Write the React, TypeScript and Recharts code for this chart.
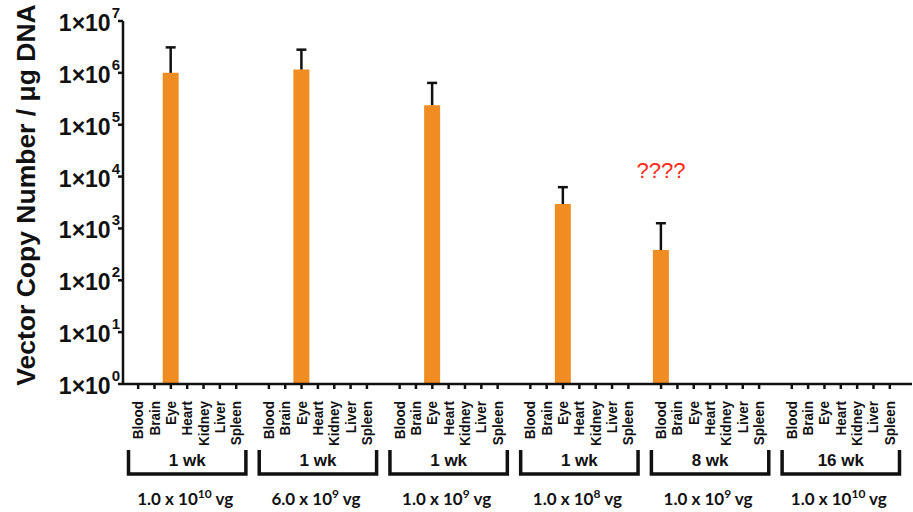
import { BarChart, Bar, XAxis, YAxis, ErrorBar, ReferenceDot } from 'recharts';

const tissues = ['Blood', 'Brain', 'Eye', 'Heart', 'Kidney', 'Liver', 'Spleen'];
const timepoints = ['1 wk', '1 wk', '1 wk', '1 wk', '8 wk', '16 wk'];
const doseMantissas = ['1.0', '6.0', '1.0', '1.0', '1.0', '1.0'];
const doseExponents = ['10', '9', '9', '8', '9', '10'];

// mean vector copy number per tissue, one row per group (null = not detected)
const meanValues: (number | null)[][] = [
  [null, null, 1.0e6, null, null, null, null],
  [null, null, 1.16e6, null, null, null, null],
  [null, null, 2.38e5, null, null, null, null],
  [null, null, 2.95e3, null, null, null, null],
  [382, null, null, null, null, null, null],
  [null, null, null, null, null, null, null],
];
// top of the error whisker
const upperValues: (number | null)[][] = [
  [null, null, 3.1e6, null, null, null, null],
  [null, null, 2.8e6, null, null, null, null],
  [null, null, 6.4e5, null, null, null, null],
  [null, null, 6.25e3, null, null, null, null],
  [1.26e3, null, null, null, null, null, null],
  [null, null, null, null, null, null, null],
];

const yTicks = [1, 10, 100, 1e3, 1e4, 1e5, 1e6, 1e7];
const annotationText = '????';
const annotationGroup = 4;
const annotationTissue = 'Blood';
const annotationValue = 1.3e4;

const FONT = '"Liberation Sans", Arial, sans-serif';
const ORANGE = '#F08D22';
const INK = '#111';

interface Row {
  key: string;
  tissue: string;
  tissueIndex: number;
  group: number;
  mean?: number | null;
  err?: [number, number];
}

// build the category list, with one empty slot between groups
const rows: Row[] = [];
meanValues.forEach((vals, g) => {
  if (g > 0) rows.push({ key: `gap${g}`, tissue: '', tissueIndex: -1, group: g });
  tissues.forEach((t, i) => {
    const mean = vals[i];
    const upper = upperValues[g][i];
    const row: Row = { key: `g${g}-${t}`, tissue: t, tissueIndex: i, group: g, mean };
    if (mean != null && upper != null) row.err = [0, upper - mean]; // upper whisker only
    rows.push(row);
  });
});

const rowByKey: Record<string, Row> = {};
rows.forEach((r) => { rowByKey[r.key] = r; });

function CategoryTick(props: any) {
  const { x, y, payload } = props;
  const row = rowByKey[payload.value];
  if (!row || !row.tissue) return null;
  const slot = payload.offset ? payload.offset * 2 : 16.34;
  const half = slot * 3.5 + 1.5;
  return (
    <g>
      <line x1={x} x2={x} y1={y} y2={y + 5} stroke={INK} strokeWidth={2.5} />
      <text
        transform={`translate(${x + 5},${y + 17}) rotate(-90) scale(1,1.1)`}
        textAnchor="end"
        fontSize={13.5}
        fontWeight="bold"
        fontFamily={FONT}
        fill={INK}
      >
        {row.tissue}
      </text>
      {row.tissueIndex === 3 && (
        <g>
          <path
            d={`M${x - half},${y + 66} V${y + 90} H${x + half} V${y + 66}`}
            fill="none"
            stroke={INK}
            strokeWidth={3.5}
          />
          <text x={x} y={y + 82} textAnchor="middle" fontSize={17} fontWeight="bold" fontFamily={FONT} fill={INK}>
            {timepoints[row.group]}
          </text>
          <text x={x - 2} y={y + 121} textAnchor="middle" fontSize={17} fontWeight="bold" fontFamily="Lato, sans-serif" fill={INK}>
            {`${doseMantissas[row.group]} x 10`}
            <tspan fontSize={12} dy={-7}>{doseExponents[row.group]}</tspan>
            <tspan dy={7}>{' vg'}</tspan>
          </text>
        </g>
      )}
    </g>
  );
}

function PowerTick(props: any) {
  const { x, y, payload } = props;
  const exp = Math.round(Math.log10(payload.value));
  return (
    <text x={x + 2} y={y + 10} textAnchor="end" fontSize={23} fontWeight="bold" fontFamily={FONT} fill={INK}>
      {'1×10'}
      <tspan fontSize={15} dx={1} dy={-13}>{String(exp)}</tspan>
    </text>
  );
}

export default function App() {
  return (
    <div style={{ position: 'absolute', left: 0, top: 0, width: 913, height: 512, background: '#fff' }}>
      <style>{'.recharts-errorBar line:nth-of-type(3){display:none}'}</style>
      <BarChart
        width={913}
        height={512}
        data={rows}
        margin={{ top: 21, right: 1, bottom: 0, left: 0 }}
        barCategoryGap={0}
      >
        <XAxis
          dataKey="key"
          type="category"
          interval={0}
          height={128}
          padding={{ left: 7, right: 14 }}
          tickSize={0}
          tickMargin={0}
          tickLine={false}
          axisLine={{ stroke: INK, strokeWidth: 2.5 }}
          tick={<CategoryTick />}
        />
        <YAxis
          type="number"
          scale="log"
          domain={[1, 1e7]}
          ticks={yTicks}
          interval={0}
          allowDataOverflow
          width={123}
          tickSize={5}
          tickMargin={0}
          tickLine={{ stroke: INK, strokeWidth: 2.5 }}
          axisLine={{ stroke: INK, strokeWidth: 2.5 }}
          tick={<PowerTick />}
          label={{
            content: () => (
              <text
                transform="translate(35,195) rotate(-90)"
                textAnchor="middle"
                fontSize={26.5}
                fontWeight="bold"
                fontFamily={FONT}
                fill={INK}
              >
                Vector Copy Number / μg DNA
              </text>
            ),
          }}
        />
        <Bar dataKey="mean" fill={ORANGE} isAnimationActive={false}>
          <ErrorBar dataKey="err" width={5} strokeWidth={2.5} stroke={INK} direction="y" isAnimationActive={false} />
        </Bar>
        <ReferenceDot
          x={`g${annotationGroup}-${annotationTissue}`}
          y={annotationValue}
          r={0}
          fill="none"
          stroke="none"
          label={{ value: annotationText, position: 'center', fill: '#FF2A1A', fontSize: 22, fontFamily: FONT }}
        />
      </BarChart>
    </div>
  );
}
